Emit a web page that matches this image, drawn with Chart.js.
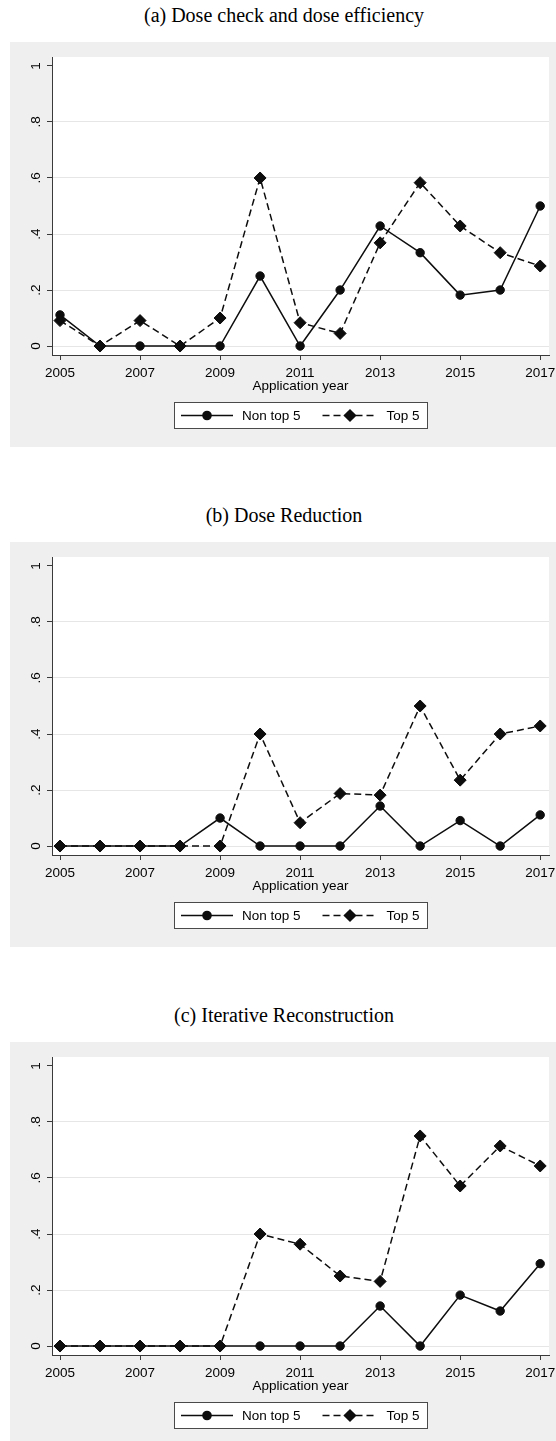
<!DOCTYPE html>
<html>
<head>
<meta charset="utf-8">
<script src="https://cdn.jsdelivr.net/npm/chart.js@4.4.1/dist/chart.umd.min.js"></script>
<style>
  html, body { margin: 0; padding: 0; background: #ffffff; }
  body { width: 556px; height: 1441px; overflow: hidden; position: relative; }
  .panel { position: absolute; left: 0; width: 556px; height: 500px; }
  .title {
    position: absolute; left: 0; width: 568px; top: 4px; text-align: center;
    font-family: "Liberation Serif", "Times New Roman", serif; font-size: 20px; line-height: 22px; color: #000;
  }
  .box { position: absolute; left: 10px; top: 42px; width: 546px; height: 405px; background: #efefef; }
  canvas { display: block; }
</style>
</head>
<body>
<div class="panel" style="top:0px"><div class="title" id="t0"></div><div class="box"><canvas id="c0" width="546" height="405"></canvas></div></div>
<div class="panel" style="top:500px"><div class="title" id="t1"></div><div class="box"><canvas id="c1" width="546" height="405"></canvas></div></div>
<div class="panel" style="top:1000px"><div class="title" id="t2"></div><div class="box"><canvas id="c2" width="546" height="405"></canvas></div></div>
<script>
// Application years and axis ticks
const years = [2005, 2006, 2007, 2008, 2009, 2010, 2011, 2012, 2013, 2014, 2015, 2016, 2017];
const xTicks = [2005, 2007, 2009, 2011, 2013, 2015, 2017];
const yTicks = [0, 0.2, 0.4, 0.6, 0.8, 1];
const yTickLabels = ['0', '.2', '.4', '.6', '.8', '1'];
const seriesNames = ['Non top 5', 'Top 5'];
const panelTitles = ['(a) Dose check and dose efficiency', '(b) Dose Reduction', '(c) Iterative Reconstruction'];
const xAxisTitle = 'Application year';

// (a) Dose check and dose efficiency
const doseCheckNonTop5 = [0.1111, 0, 0, 0, 0, 0.25, 0, 0.2, 0.4286, 0.3333, 0.1818, 0.2, 0.5];
const doseCheckTop5    = [0.0909, 0, 0.0909, 0, 0.1, 0.6, 0.0833, 0.045, 0.3684, 0.5833, 0.4286, 0.3333, 0.2857];

// (b) Dose Reduction
const doseReductionNonTop5 = [0, 0, 0, 0, 0.1, 0, 0, 0, 0.1429, 0, 0.0909, 0, 0.1111];
const doseReductionTop5    = [0, 0, 0, 0, 0, 0.4, 0.0833, 0.1875, 0.1818, 0.5, 0.2353, 0.4, 0.4286];

// (c) Iterative Reconstruction
const iterativeNonTop5 = [0, 0, 0, 0, 0, 0, 0, 0, 0.1429, 0, 0.1818, 0.125, 0.2941];
const iterativeTop5    = [0, 0, 0, 0, 0, 0.4, 0.3636, 0.25, 0.2308, 0.75, 0.5714, 0.7143, 0.6429];

const panels = [
  [doseCheckNonTop5, doseCheckTop5],
  [doseReductionNonTop5, doseReductionTop5],
  [iterativeNonTop5, iterativeTop5]
];

const INK = '#0d0d0d';
const AXIS = '#3a3a3a';
const GRID = '#e6e6e6';
const SANS = '"Liberation Sans", Arial, Helvetica, sans-serif';
const LABEL_SIZE = 13.5;

// white plot region on the grey graph background
const plotBg = {
  id: 'plotBg',
  beforeDraw(chart) {
    const { ctx, chartArea: a } = chart;
    ctx.save();
    ctx.fillStyle = '#ffffff';
    ctx.fillRect(a.left, a.top, a.right - a.left, a.bottom - a.top);
    ctx.restore();
  }
};

function drawMarker(ctx, style, x, y, r) {
  ctx.beginPath();
  if (style === 'rectRot') {
    ctx.moveTo(x, y - r);
    ctx.lineTo(x + r, y);
    ctx.lineTo(x, y + r);
    ctx.lineTo(x - r, y);
    ctx.closePath();
  } else {
    ctx.arc(x, y, r, 0, Math.PI * 2);
  }
  ctx.fill();
}

// boxed legend below the axis title: line sample, marker, label
const boxLegend = {
  id: 'boxLegend',
  afterDraw(chart) {
    const { ctx, chartArea: a } = chart;
    const w = 253, h = 26;
    const x0 = Math.round((a.left + a.right) / 2 - w / 2) + 0.5;
    const y0 = Math.round(a.bottom + 47) + 0.5;
    ctx.save();
    ctx.fillStyle = '#ffffff';
    ctx.fillRect(x0, y0, w, h);
    ctx.strokeStyle = '#4a4a4a';
    ctx.lineWidth = 1;
    ctx.strokeRect(x0, y0, w, h);
    const my = y0 + h / 2;
    const starts = [6.5, 148];
    const lens = [52, 55];
    chart.data.datasets.forEach((ds, i) => {
      const sx = x0 + starts[i], ex = sx + lens[i];
      ctx.setLineDash(ds.borderDash || []);
      ctx.strokeStyle = ds.borderColor;
      ctx.lineWidth = ds.borderWidth;
      ctx.beginPath();
      ctx.moveTo(sx, my);
      ctx.lineTo(ex, my);
      ctx.stroke();
      ctx.setLineDash([]);
      ctx.fillStyle = ds.pointBackgroundColor;
      drawMarker(ctx, ds.pointStyle, (sx + ex) / 2, my, ds.pointRadius + 0.6);
      ctx.fillStyle = '#000000';
      ctx.font = LABEL_SIZE + 'px ' + SANS;
      ctx.textBaseline = 'middle';
      ctx.textAlign = 'left';
      ctx.fillText(ds.label, ex + 9, my + 0.5);
    });
    ctx.restore();
  }
};

function makeChart(idx) {
  document.getElementById('t' + idx).textContent = panelTitles[idx];
  const [nonTop, top] = panels[idx];
  const toPoints = arr => years.map((yr, i) => ({ x: yr, y: arr[i] }));
  return new Chart(document.getElementById('c' + idx), {
    type: 'line',
    data: {
      datasets: [
        {
          label: seriesNames[0], data: toPoints(nonTop),
          borderColor: INK, backgroundColor: INK, borderWidth: 1.5, tension: 0,
          pointStyle: 'circle', pointRadius: 4.2, pointBorderWidth: 1,
          pointBackgroundColor: INK, pointBorderColor: INK, order: 1, clip: false
        },
        {
          label: seriesNames[1], data: toPoints(top),
          borderColor: INK, backgroundColor: INK, borderWidth: 1.5, tension: 0, borderDash: [7, 4],
          pointStyle: 'rectRot', pointRadius: 6, pointBorderWidth: 1,
          pointBackgroundColor: INK, pointBorderColor: INK, order: 0, clip: false
        }
      ]
    },
    options: {
      responsive: false,
      animation: false,
      devicePixelRatio: 1,
      layout: { padding: { left: 0, top: 15, right: 5, bottom: 0 } },
      plugins: { legend: { display: false }, tooltip: { enabled: false }, title: { display: false } },
      scales: {
        x: {
          type: 'linear', min: 2004.8, max: 2017.22,
          afterBuildTicks: s => { s.ticks = xTicks.map(v => ({ value: v })); },
          afterFit: s => { s.height = 92; s.paddingLeft = 0; s.paddingRight = 0; },
          grid: { drawOnChartArea: false, drawTicks: true, tickLength: 5, tickColor: AXIS, tickWidth: 1 },
          border: { display: true, color: AXIS, width: 1 },
          ticks: {
            color: '#000', font: { family: SANS, size: LABEL_SIZE }, padding: 5,
            maxRotation: 0, minRotation: 0, autoSkip: false,
            callback: v => String(v)
          },
          title: {
            display: true, text: xAxisTitle, color: '#000',
            font: { family: SANS, size: LABEL_SIZE }, padding: { top: 0, bottom: 53 }
          }
        },
        y: {
          type: 'linear', min: -0.032, max: 1.032,
          afterBuildTicks: s => { s.ticks = yTicks.map(v => ({ value: v })); },
          afterFit: s => { s.width = 42; s.paddingTop = 0; s.paddingBottom = 0; },
          grid: {
            color: c => (c.tick && c.tick.value === 1) ? 'rgba(0,0,0,0)' : GRID,
            lineWidth: 1, drawTicks: true, tickLength: 5, tickColor: AXIS, tickWidth: 1
          },
          border: { display: true, color: AXIS, width: 1 },
          ticks: {
            color: '#000', font: { family: SANS, size: LABEL_SIZE }, padding: 5,
            minRotation: 90, maxRotation: 90, crossAlign: 'center',
            callback: (v, i) => yTickLabels[i]
          }
        }
      }
    },
    plugins: [plotBg, boxLegend]
  });
}

[0, 1, 2].forEach(makeChart);
</script>
</body>
</html>
